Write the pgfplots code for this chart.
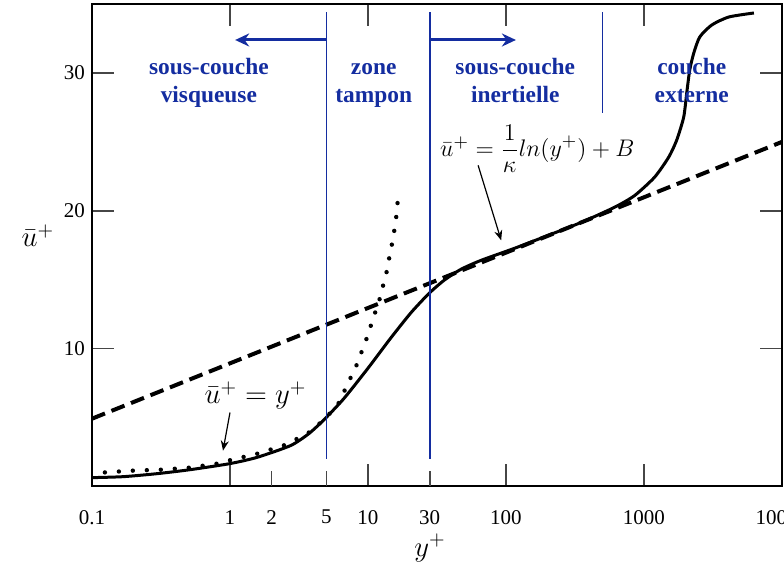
\documentclass[border=0pt]{standalone}
\usepackage{fontspec}
\setmainfont{Liberation Serif}
\usepackage{pgfplots}
\pgfplotsset{compat=1.18}
\usetikzlibrary{arrows.meta}
\definecolor{zblue}{RGB}{20,45,160}
\definecolor{tickgray}{RGB}{70,70,70}

\begin{document}
\begin{tikzpicture}
\begin{axis}[
  name=ax,
  xmode=log,
  scale only axis,
  width=345pt, height=241pt,
  xmin=0.1, xmax=10000, ymin=0, ymax=35,
  axis line style={line width=1.1pt},
  xtick={0.1,1,10,100,1000,10000},
  xticklabels={0.1,1,10,100,1000,10000},
  extra x ticks={2,5,28},
  extra x tick labels={2,5,30},
  extra x tick style={xtick pos=left, major tick length=7.5pt},
  xminorticks=false,
  ytick={10,20,30},
  tick align=inside,
  major tick length=11pt,
  tick style={line width=0.8pt, color=tickgray},
  xticklabel style={yshift=-8.5pt},
  /pgf/number format/assume math mode=true,
  tick label style={font=\fontsize{10.5}{12}\selectfont},
  clip=false,
  xlabel={$y^+$},
  ylabel={$\bar{u}^+$},
  xlabel style={at={(rel axis cs:0.49,0)}, anchor=center, yshift=-31pt, font=\fontsize{14}{16}\selectfont},
  ylabel style={rotate=-90, at={(rel axis cs:0,0.52)}, anchor=center, xshift=-27pt, font=\fontsize{14}{16}\selectfont},
]
% velocity profile
\addplot[black, line width=1.5pt, smooth, tension=0.4] coordinates {
  (0.1,0.62) (0.168,0.69) (0.297,0.91) (0.516,1.20) (1.0,1.64) (1.58,2.1)
  (2.75,2.95) (3.71,3.8) (4.77,4.8) (6.67,6.35) (9.97,8.55) (14.6,10.75)
  (20.5,12.6) (27.7,14.0) (35.6,14.95) (47.2,15.75) (66,16.4) (115,17.27)
  (203,18.22) (352,19.16) (611,20.25) (854,21.1) (1194,22.44) (1510,23.89)
  (1726,25.13) (1940,26.8) (2040,28.55) (2145,30.22) (2294,31.45) (2536,32.62)
  (3100,33.49) (4120,34.07) (6260,34.36)
};
% log law
\addplot[black, line width=2pt, dash pattern=on 7pt off 3.5pt] coordinates {
  (0.1,4.9) (10000,25.0)
};
% linear law u+ = y+
\addplot[black, line width=2.2pt, line cap=round, dash pattern=on 0pt off 7pt] coordinates {
  (0.124,1.0) (0.199,1.13) (0.323,1.2) (0.516,1.35) (0.81,1.64) (1.04,1.93)
  (1.58,2.36) (2.44,2.95) (3.65,3.82) (4.54,4.62) (5.55,5.49) (6.34,6.22)
  (6.9,7.16) (7.75,8.18) (8.43,8.98) (9.17,10.0) (9.97,10.95) (10.66,11.89)
  (11.59,12.98) (12.39,13.85) (13.02,14.8) (13.93,15.89) (14.4,16.91)
  (15.14,17.85) (15.66,18.87) (16.19,19.89) (16.47,20.91)
};
% zone limits
\draw[zblue, line width=0.9pt] (axis cs:5,2) -- (axis cs:5,34.4);
\draw[zblue, line width=0.9pt] (axis cs:28,2) -- (axis cs:28,34.4);
\draw[zblue, line width=0.9pt] (axis cs:500,27.1) -- (axis cs:500,34.4);
\draw[zblue, line width=1.5pt, -{Stealth[length=7pt,width=6.5pt]}] (axis cs:5,32.4) -- (axis cs:1.09,32.4);
\draw[zblue, line width=1.5pt, -{Stealth[length=7pt,width=6.5pt]}] (axis cs:28,32.4) -- (axis cs:118,32.4);
\begin{scope}[every node/.style={zblue, align=center, font=\bfseries\fontsize{11.7}{14}\selectfont}]
\node at (axis cs:0.703,29.3) {\strut sous-couche\\\strut visqueuse};
\node at (axis cs:11,29.3) {\strut zone\\\strut tampon};
\node at (axis cs:116.7,29.3) {\strut sous-couche\\\strut inertielle};
\node at (axis cs:2218,29.3) {\strut couche\\\strut externe};
\end{scope}
% formulas
\node[font=\fontsize{14}{16}\selectfont] at (axis cs:1.53,6.6) {$\bar{u}^+ = y^+$};
\draw[line width=0.6pt, -{Stealth[length=5pt,width=4pt]}] (axis cs:1.0,5.35) -- (axis cs:0.89,2.58);
\node[font=\fontsize{13}{15}\selectfont] at (axis cs:168.7,24.5) {$\bar{u}^+ = \displaystyle\frac{1}{\kappa}ln(y^+) + B$};
\draw[line width=0.6pt, -{Stealth[length=5pt,width=4pt]}] (axis cs:62.8,23.3) -- (axis cs:92.3,17.85);
\end{axis}
\pgfresetboundingbox
\path ([xshift=-46pt,yshift=-41.75pt]ax.south west) rectangle ([xshift=1pt,yshift=2.1pt]ax.north east);
\end{tikzpicture}
\end{document}
